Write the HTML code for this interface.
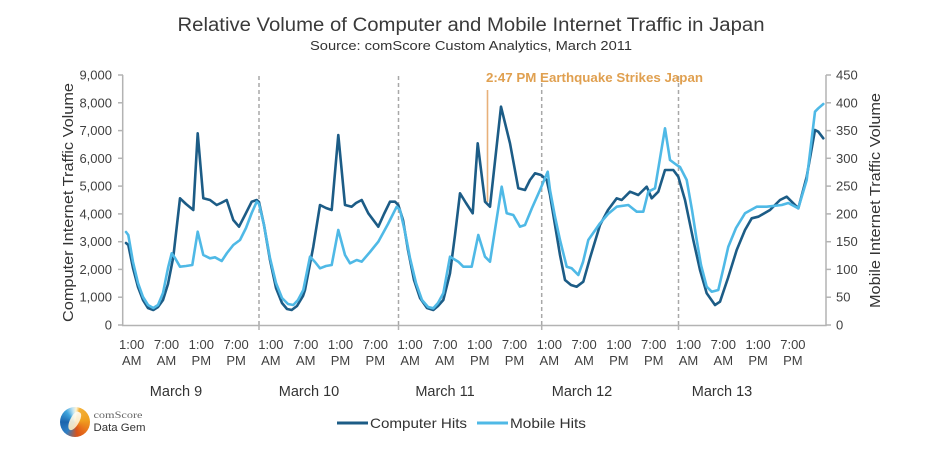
<!DOCTYPE html>
<html>
<head>
<meta charset="utf-8">
<style>
  html,body{margin:0;padding:0;background:#fff;}
  body{width:940px;height:452px;overflow:hidden;position:relative;font-family:"Liberation Sans",Arial,sans-serif;}
  svg{position:absolute;left:0;top:0;}
  .logo{position:absolute;left:60px;top:407px;width:30px;height:30px;border-radius:50%;
    background:conic-gradient(from 20deg,#f3b13a 0deg,#f0a020 60deg,#e8741c 110deg,#d9531a 150deg,#2f7fc4 200deg,#1b64ad 250deg,#3da3dc 300deg,#bfe3f3 330deg,#fff6d8 345deg,#f3b13a 360deg);}
  .logo:after{content:"";position:absolute;left:10px;top:4px;width:9px;height:20px;background:linear-gradient(160deg,#ffffff,#fde9b8);transform:rotate(28deg);border-radius:40% 40% 50% 50%;opacity:.9;}
</style>
</head>
<body>
<svg width="940" height="452" viewBox="0 0 940 452" xmlns="http://www.w3.org/2000/svg" font-family="Liberation Sans, Arial, sans-serif">
  <!-- Titles -->
  <text x="471" y="31" text-anchor="middle" font-size="19" fill="#3a3a3a" textLength="587" lengthAdjust="spacingAndGlyphs">Relative Volume of Computer and Mobile Internet Traffic in Japan</text>
  <text x="471" y="50" text-anchor="middle" font-size="13" fill="#333" textLength="322" lengthAdjust="spacingAndGlyphs">Source: comScore Custom Analytics, March 2011</text>

  <!-- Day separator dashed lines -->
  <g stroke="#a8a8a8" stroke-width="1.5" stroke-dasharray="4,3">
    <line x1="259" y1="76" x2="259" y2="325"/>
    <line x1="398.5" y1="76" x2="398.5" y2="325"/>
    <line x1="541.7" y1="76" x2="541.7" y2="325"/>
    <line x1="678.5" y1="76" x2="678.5" y2="325"/>
  </g>

  <!-- Axes -->
  <g stroke="#b3b3b3" stroke-width="1.5" fill="none">
    <line x1="122.7" y1="75" x2="122.7" y2="325.5"/>
    <line x1="826" y1="75" x2="826" y2="325.5"/>
    <line x1="122" y1="325.5" x2="826.7" y2="325.5"/>
    <!-- left ticks -->
    <line x1="118" y1="325" x2="123" y2="325"/>
    <line x1="118" y1="297.2" x2="123" y2="297.2"/>
    <line x1="118" y1="269.4" x2="123" y2="269.4"/>
    <line x1="118" y1="241.7" x2="123" y2="241.7"/>
    <line x1="118" y1="213.9" x2="123" y2="213.9"/>
    <line x1="118" y1="186.1" x2="123" y2="186.1"/>
    <line x1="118" y1="158.3" x2="123" y2="158.3"/>
    <line x1="118" y1="130.6" x2="123" y2="130.6"/>
    <line x1="118" y1="102.8" x2="123" y2="102.8"/>
    <line x1="118" y1="75" x2="123" y2="75"/>
    <!-- right ticks -->
    <line x1="826" y1="325" x2="831" y2="325"/>
    <line x1="826" y1="297.2" x2="831" y2="297.2"/>
    <line x1="826" y1="269.4" x2="831" y2="269.4"/>
    <line x1="826" y1="241.7" x2="831" y2="241.7"/>
    <line x1="826" y1="213.9" x2="831" y2="213.9"/>
    <line x1="826" y1="186.1" x2="831" y2="186.1"/>
    <line x1="826" y1="158.3" x2="831" y2="158.3"/>
    <line x1="826" y1="130.6" x2="831" y2="130.6"/>
    <line x1="826" y1="102.8" x2="831" y2="102.8"/>
    <line x1="826" y1="75" x2="831" y2="75"/>
    <!-- bottom ticks -->
    <line x1="259" y1="325" x2="259" y2="330"/>
    <line x1="398.5" y1="325" x2="398.5" y2="330"/>
    <line x1="541.7" y1="325" x2="541.7" y2="330"/>
    <line x1="678.5" y1="325" x2="678.5" y2="330"/>
  </g>

  <!-- Left tick labels -->
  <g font-size="13" fill="#404040" text-anchor="end">
    <text x="112" y="329.5">0</text>
    <text x="112" y="301.7">1,000</text>
    <text x="112" y="273.9">2,000</text>
    <text x="112" y="246.2">3,000</text>
    <text x="112" y="218.4">4,000</text>
    <text x="112" y="190.6">5,000</text>
    <text x="112" y="162.8">6,000</text>
    <text x="112" y="135.1">7,000</text>
    <text x="112" y="107.3">8,000</text>
    <text x="112" y="79.5">9,000</text>
  </g>
  <!-- Right tick labels -->
  <g font-size="13" fill="#404040" text-anchor="start">
    <text x="836" y="329.5">0</text>
    <text x="836" y="301.7">50</text>
    <text x="836" y="273.9">100</text>
    <text x="836" y="246.2">150</text>
    <text x="836" y="218.4">200</text>
    <text x="836" y="190.6">250</text>
    <text x="836" y="162.8">300</text>
    <text x="836" y="135.1">350</text>
    <text x="836" y="107.3">400</text>
    <text x="836" y="79.5">450</text>
  </g>

  <!-- Axis titles -->
  <text transform="translate(73,202.5) rotate(-90)" text-anchor="middle" font-size="15" fill="#333" textLength="239" lengthAdjust="spacingAndGlyphs">Computer Internet Traffic Volume</text>
  <text transform="translate(880,200.5) rotate(-90)" text-anchor="middle" font-size="15" fill="#333" textLength="215" lengthAdjust="spacingAndGlyphs">Mobile Internet Traffic Volume</text>

  <!-- X labels -->
  <g font-size="13" fill="#404040" text-anchor="middle">
    <text x="131.7" y="349">1:00</text><text x="131.7" y="365">AM</text>
    <text x="166.5" y="349">7:00</text><text x="166.5" y="365">AM</text>
    <text x="201.3" y="349">1:00</text><text x="201.3" y="365">PM</text>
    <text x="236.1" y="349">7:00</text><text x="236.1" y="365">PM</text>
    <text x="270.9" y="349">1:00</text><text x="270.9" y="365">AM</text>
    <text x="305.7" y="349">7:00</text><text x="305.7" y="365">AM</text>
    <text x="340.5" y="349">1:00</text><text x="340.5" y="365">PM</text>
    <text x="375.3" y="349">7:00</text><text x="375.3" y="365">PM</text>
    <text x="410.1" y="349">1:00</text><text x="410.1" y="365">AM</text>
    <text x="444.9" y="349">7:00</text><text x="444.9" y="365">AM</text>
    <text x="479.7" y="349">1:00</text><text x="479.7" y="365">PM</text>
    <text x="514.5" y="349">7:00</text><text x="514.5" y="365">PM</text>
    <text x="549.3" y="349">1:00</text><text x="549.3" y="365">AM</text>
    <text x="584.1" y="349">7:00</text><text x="584.1" y="365">AM</text>
    <text x="618.9" y="349">1:00</text><text x="618.9" y="365">PM</text>
    <text x="653.7" y="349">7:00</text><text x="653.7" y="365">PM</text>
    <text x="688.5" y="349">1:00</text><text x="688.5" y="365">AM</text>
    <text x="723.3" y="349">7:00</text><text x="723.3" y="365">AM</text>
    <text x="758.1" y="349">1:00</text><text x="758.1" y="365">PM</text>
    <text x="792.9" y="349">7:00</text><text x="792.9" y="365">PM</text>
  </g>
  <g font-size="14.5" fill="#333" text-anchor="middle">
    <text x="176" y="396">March 9</text>
    <text x="309" y="396">March 10</text>
    <text x="445" y="396">March 11</text>
    <text x="582" y="396">March 12</text>
    <text x="722" y="396">March 13</text>
  </g>

  <!-- Earthquake annotation -->
  <line x1="487.5" y1="90" x2="487.5" y2="202" stroke="#e8b07a" stroke-width="1.6"/>
  <text x="486" y="82" font-size="13" font-weight="bold" fill="#e0a050" textLength="217" lengthAdjust="spacingAndGlyphs">2:47 PM Earthquake Strikes Japan</text>

  <!-- Computer series -->
  <polyline fill="none" stroke="#1c5c86" stroke-width="2.6" stroke-linejoin="round" stroke-linecap="round" points="
    126,243 128.3,245 133,268 138,287 143,300 148,308 153.3,310 158,307 163,300 168,284 173.3,257 180,198.3 186,204 193.3,210 197.7,133.3 203.3,198.3 210,200 216.7,205 221,203 226.7,200 233.3,220 239,226.7 245,215 251.7,201.7 256.7,200
    259,202 264,225 270,260 276,288 282,303 287,309 291.7,310 297,306 303,296 305,290 313.3,246.7 320,205 326,208 331.7,210 338.3,135 345,205 351.7,206.7 356,203 361.7,200 368.3,213.3 378.3,226.7 384,214 390,201.7 395,201.7 398.3,205
    403,220 408,250 414,280 420,298 427,308 433.3,310 438,306 443.3,300 450,273.3 455,235 460,193.3 466,203 472.7,213.3 477.7,143.3 485,201.7 490,206.7 501,106.7 510,143.3 518.3,188.3 525,190 530,180 535,173.3 541,175 546.7,180
    550,195 555,225 560,255 565,280 571,285 576.7,286.7 583.3,281.7 590,258 600,225 608,210 616.7,198.3 621.7,200 630,191.7 638.3,195 646.7,186.7 651.7,198.3 658.3,191.7 665,170 673.3,170 678.3,176.7
    685,200 693.3,240 700,270 706.7,293.3 715,305 720,301.7 728,278 736.7,250 745,230 751.7,218.3 758.3,216.7 770,210 780,200 786.7,196.7 798.3,208.3 806.7,176.7 815,130 818.3,131.7 823.3,138.3"/>

  <!-- Mobile series -->
  <polyline fill="none" stroke="#4fb9e6" stroke-width="2.6" stroke-linejoin="round" stroke-linecap="round" points="
    126,232 128.3,235 133,262 138,283 143,297 148,305 153.3,308 158,305 163,293 168,268 171.7,253.3 175,258 180,266.7 186,266 192.3,265 197.7,231.7 203.3,255 210,258.3 215,257.3 221.7,261 227,253 233.3,245 240,240 246,228 251.7,213 256.7,201.7
    259,204 264,225 270,258 276,283 282,298 288,304 293.3,305 298,300 303.3,290 310,256.7 315,262 320,268.3 326,266 331.7,265 338.3,230 345,255 350,263.3 356.7,260 361.7,261.7 370,252 378.3,241.7 388,224 396.7,206.7
    400,210 405,232 410,258 416,283 422,300 428,307 433.3,308.3 438,303 443.3,293.3 450,256.7 458.3,261.7 463.3,266.7 471.7,266.7 478.3,235 485,256.7 490,261.7 501.7,186.7 506.7,213.3 513.3,215 520,226.7 525,225 532,208 540,190 547.7,171.7
    550,190 555,216.7 560,240 566.7,266.7 571.7,268.3 578.3,275 583,262 588.3,240 600,223.3 608,214 616.7,206.7 628.3,205 636.7,211.7 643.3,211.7 648.3,191.7 655,188.3 665,128.3 670,160 676.7,165 680,167 686.7,180
    692,210 696.7,240 701,265 706.7,286.7 711.7,291.7 718.3,290 723,270 728.3,246.7 736,228 745,213.3 756.7,206.7 766.7,206.7 781.7,205 788.3,203 798.3,208.3 806.7,180 815,111.7 818.3,108.3 823.3,104"/>

  <!-- Legend -->
  <line x1="337" y1="423" x2="368" y2="423" stroke="#1c5c86" stroke-width="3"/>
  <text x="370" y="428" font-size="14" fill="#333" textLength="97" lengthAdjust="spacingAndGlyphs">Computer Hits</text>
  <line x1="477" y1="423" x2="508" y2="423" stroke="#4fb9e6" stroke-width="3"/>
  <text x="510" y="428" font-size="14" fill="#333" textLength="76" lengthAdjust="spacingAndGlyphs">Mobile Hits</text>

  <!-- Logo text -->
  <text x="93.5" y="418" font-size="9" font-family="Liberation Serif, serif" fill="#666" textLength="49" lengthAdjust="spacingAndGlyphs">comScore</text>
  <text x="93.5" y="431" font-size="11" fill="#333" textLength="52" lengthAdjust="spacingAndGlyphs">Data Gem</text>
</svg>
<div class="logo"></div>
</body>
</html>
